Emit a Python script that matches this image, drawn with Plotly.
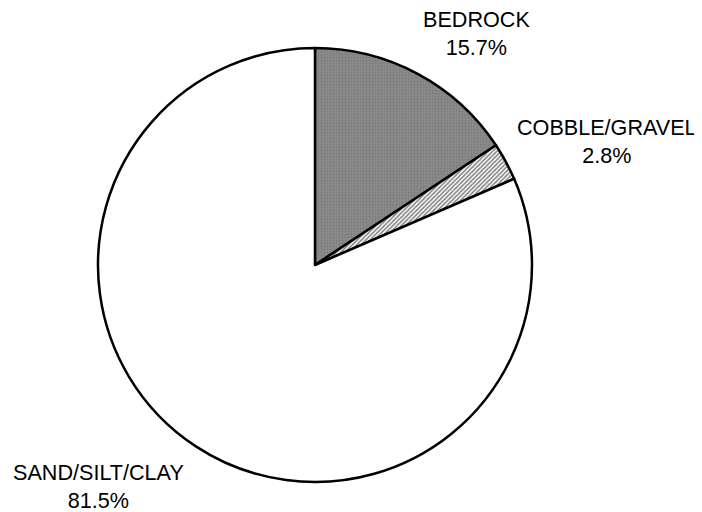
import plotly.graph_objects as go

labels = ["BEDROCK", "COBBLE/GRAVEL", "SAND/SILT/CLAY"]
values = [15.7, 2.8, 81.5]

fig = go.Figure(go.Pie(
    labels=labels, values=values, sort=False, direction="clockwise", rotation=0,
    textinfo="none", hoverinfo="label+percent", showlegend=False,
    marker=dict(
        colors=["#8a8a8a", "white", "white"],
        line=dict(color="black", width=2.5),
        pattern=dict(shape=[".", "/", ""], fgcolor=["#6e6e6e", "black", "white"],
                     size=[3, 3, 8], solidity=[0.3, 0.5, 0.1], fillmode="overlay"),
    ),
    domain=dict(x=[0.1282, 0.7464], y=[0.0742, 0.9219]),
))

label_pos = [(0.6667, 0.9502), (0.8533, 0.7393), (0.1289, 0.0664)]
for lab, val, (x, y) in zip(labels, values, label_pos):
    fig.add_annotation(x=x, y=y, xref="paper", yref="paper", text=f"{lab}<br>{val}%",
                       showarrow=False, align="center", xanchor="center", yanchor="middle",
                       font=dict(family="Liberation Sans, Arial", size=21.6, color="black"))

fig.update_layout(width=702, height=512, margin=dict(l=0, r=0, t=0, b=0),
                  paper_bgcolor="white", plot_bgcolor="white")
fig.write_html("out.html")
